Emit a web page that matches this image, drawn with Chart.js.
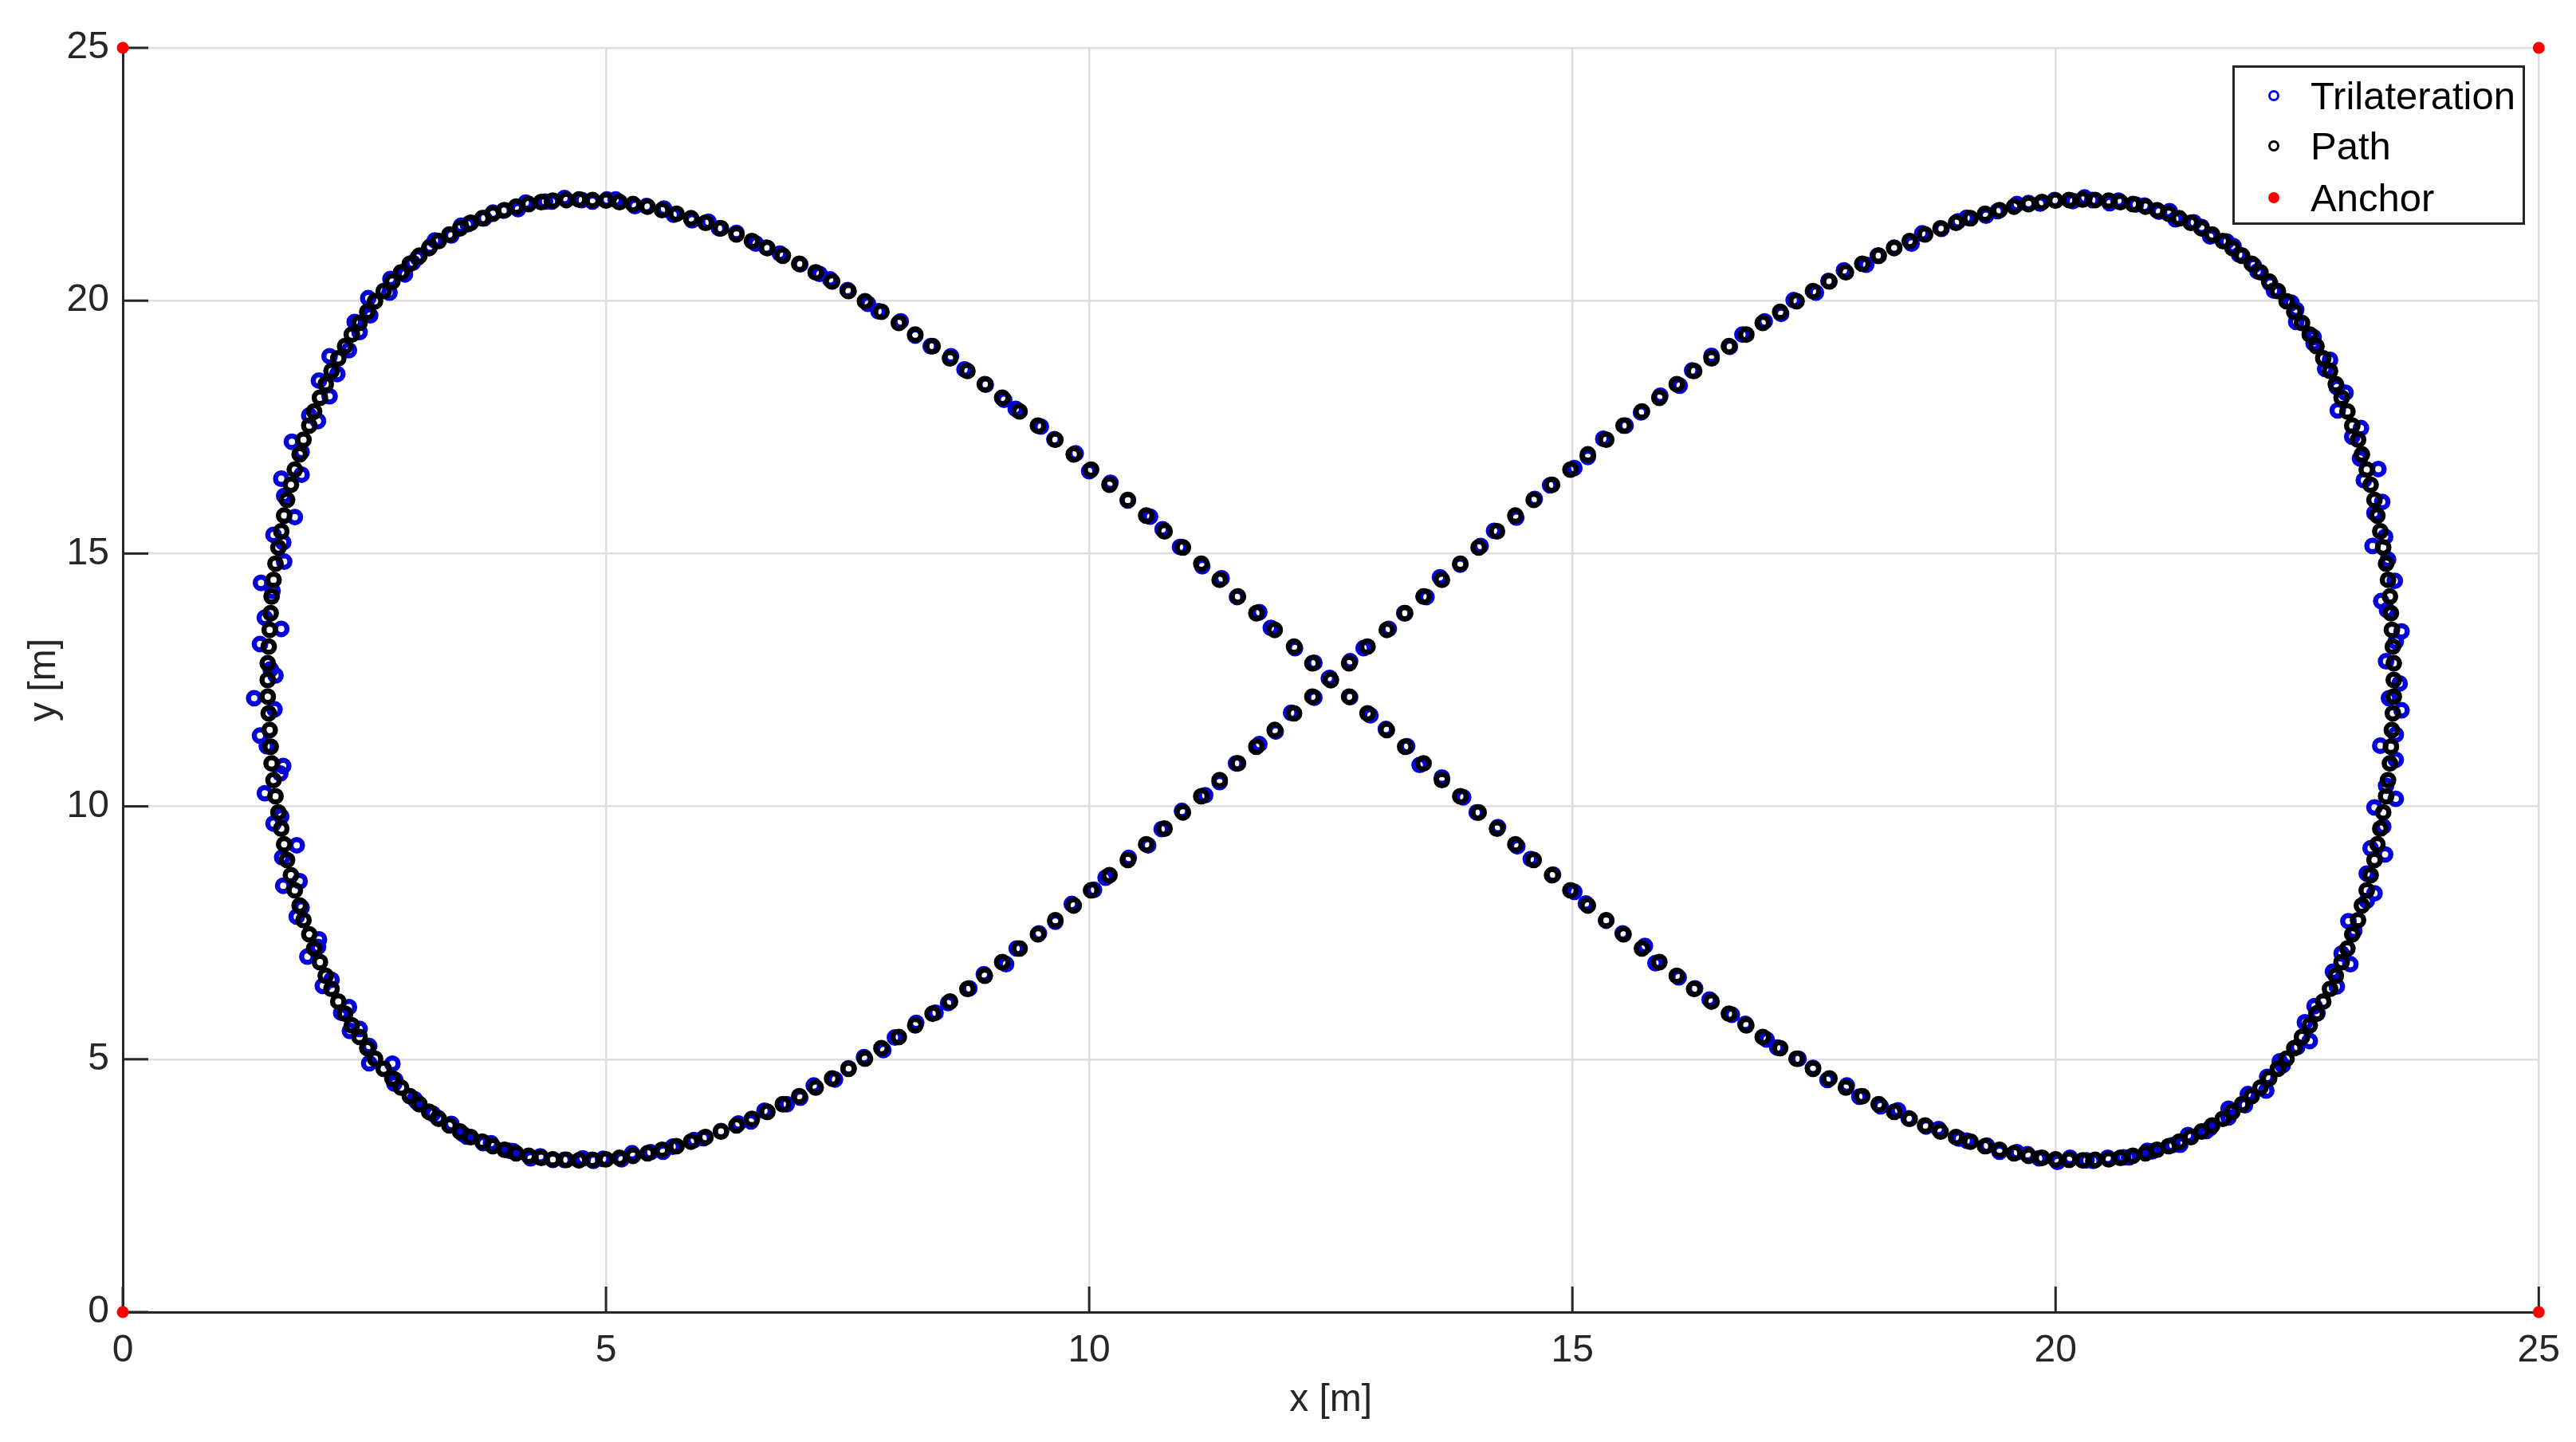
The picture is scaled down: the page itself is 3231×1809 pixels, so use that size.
<!DOCTYPE html>
<html>
<head>
<meta charset="utf-8">
<script src="https://cdn.jsdelivr.net/npm/chart.js@4.4.1/dist/chart.umd.min.js"></script>
<style>
html,body{margin:0;padding:0;background:#fff;}
#wrap{position:relative;width:3231px;height:1809px;overflow:hidden;}
#legend{position:absolute;left:2800px;top:82px;width:361px;height:194px;border:3px solid #262626;background:#fff;
  font-family:'Liberation Sans',Arial,sans-serif;font-size:49px;color:#000;}
.row{position:absolute;left:0;width:361px;height:60px;line-height:60px;}
.row span.t{position:absolute;left:95px;top:0;white-space:nowrap;}
.row span.m{position:absolute;left:42px;top:23px;width:14px;height:14px;box-sizing:border-box;border-radius:50%;}
</style>
</head>
<body>
<div id="wrap">
<canvas id="c" width="3231" height="1809"></canvas>
<div id="legend">
  <div class="row" style="top:5px"><span class="m" style="border:3.5px solid #0a0ae0"></span><span class="t">Trilateration</span></div>
  <div class="row" style="top:68px"><span class="m" style="border:3.5px solid #000"></span><span class="t">Path</span></div>
  <div class="row" style="top:133px"><span class="m" style="background:#ff0000"></span><span class="t">Anchor</span></div>
</div>
</div>
<script>
// ---- data ----
const xTicks = [0, 5, 10, 15, 20, 25];
const yTicks = [0, 5, 10, 15, 20, 25];

const anchorX = [0, 25, 0, 25];
const anchorY = [0, 0, 25, 25];

const pathX = [
23.50,23.50,23.49,23.48,23.47,23.46,23.44,23.42,23.39,23.36,
23.33,23.30,23.26,23.22,23.17,23.13,23.07,23.02,22.96,22.90,
22.84,22.77,22.70,22.63,22.55,22.47,22.39,22.30,22.21,22.12,
22.03,21.93,21.83,21.73,21.62,21.51,21.40,21.28,21.17,21.05,
20.93,20.80,20.67,20.55,20.41,20.28,20.14,20.00,19.86,19.72,
19.57,19.42,19.27,19.12,18.97,18.81,18.65,18.49,18.33,18.17,
18.00,17.83,17.66,17.49,17.32,17.15,16.97,16.80,16.62,16.44,
16.26,16.08,15.90,15.72,15.53,15.35,15.16,14.98,14.79,14.60,
14.41,14.22,14.03,13.84,13.65,13.46,13.27,13.08,12.88,12.69,
12.50,12.31,12.12,11.92,11.73,11.54,11.35,11.16,10.97,10.78,
10.59,10.40,10.21,10.02,9.84,9.65,9.47,9.28,9.10,8.92,
8.74,8.56,8.38,8.20,8.03,7.85,7.68,7.51,7.34,7.17,
7.00,6.83,6.67,6.51,6.35,6.19,6.03,5.88,5.73,5.58,
5.43,5.28,5.14,5.00,4.86,4.72,4.59,4.45,4.33,4.20,
4.07,3.95,3.83,3.72,3.60,3.49,3.38,3.27,3.17,3.07,
2.97,2.88,2.79,2.70,2.61,2.53,2.45,2.37,2.30,2.23,
2.16,2.10,2.04,1.98,1.93,1.87,1.83,1.78,1.74,1.70,
1.67,1.64,1.61,1.58,1.56,1.54,1.53,1.52,1.51,1.50,
1.50,1.50,1.51,1.52,1.53,1.54,1.56,1.58,1.61,1.64,
1.67,1.70,1.74,1.78,1.83,1.87,1.93,1.98,2.04,2.10,
2.16,2.23,2.30,2.37,2.45,2.53,2.61,2.70,2.79,2.88,
2.97,3.07,3.17,3.27,3.38,3.49,3.60,3.72,3.83,3.95,
4.07,4.20,4.33,4.45,4.59,4.72,4.86,5.00,5.14,5.28,
5.43,5.58,5.73,5.88,6.03,6.19,6.35,6.51,6.67,6.83,
7.00,7.17,7.34,7.51,7.68,7.85,8.03,8.20,8.38,8.56,
8.74,8.92,9.10,9.28,9.47,9.65,9.84,10.02,10.21,10.40,
10.59,10.78,10.97,11.16,11.35,11.54,11.73,11.92,12.12,12.31,
12.50,12.69,12.88,13.08,13.27,13.46,13.65,13.84,14.03,14.22,
14.41,14.60,14.79,14.98,15.16,15.35,15.53,15.72,15.90,16.08,
16.26,16.44,16.62,16.80,16.97,17.15,17.32,17.49,17.66,17.83,
18.00,18.17,18.33,18.49,18.65,18.81,18.97,19.12,19.27,19.42,
19.57,19.72,19.86,20.00,20.14,20.28,20.41,20.55,20.67,20.80,
20.93,21.05,21.17,21.28,21.40,21.51,21.62,21.73,21.83,21.93,
22.03,22.12,22.21,22.30,22.39,22.47,22.55,22.63,22.70,22.77,
22.84,22.90,22.96,23.02,23.07,23.13,23.17,23.22,23.26,23.30,
23.33,23.36,23.39,23.42,23.44,23.46,23.47,23.48,23.49,23.50
];

const pathY = [
12.50,12.83,13.16,13.49,13.82,14.15,14.48,14.80,15.12,15.44,
15.75,16.06,16.36,16.66,16.96,17.25,17.53,17.81,18.08,18.35,
18.61,18.86,19.10,19.33,19.56,19.78,19.99,20.19,20.38,20.56,
20.73,20.89,21.04,21.18,21.31,21.43,21.54,21.63,21.72,21.79,
21.86,21.91,21.95,21.98,21.99,22.00,21.99,21.98,21.95,21.91,
21.86,21.79,21.72,21.63,21.54,21.43,21.31,21.18,21.04,20.89,
20.73,20.56,20.38,20.19,19.99,19.78,19.56,19.33,19.10,18.86,
18.61,18.35,18.08,17.81,17.53,17.25,16.96,16.66,16.36,16.06,
15.75,15.44,15.12,14.80,14.48,14.15,13.82,13.49,13.16,12.83,
12.50,12.17,11.84,11.51,11.18,10.85,10.52,10.20,9.88,9.56,
9.25,8.94,8.64,8.34,8.04,7.75,7.47,7.19,6.92,6.65,
6.39,6.14,5.90,5.67,5.44,5.22,5.01,4.81,4.62,4.44,
4.27,4.11,3.96,3.82,3.69,3.57,3.46,3.37,3.28,3.21,
3.14,3.09,3.05,3.02,3.01,3.00,3.01,3.02,3.05,3.09,
3.14,3.21,3.28,3.37,3.46,3.57,3.69,3.82,3.96,4.11,
4.27,4.44,4.62,4.81,5.01,5.22,5.44,5.67,5.90,6.14,
6.39,6.65,6.92,7.19,7.47,7.75,8.04,8.34,8.64,8.94,
9.25,9.56,9.88,10.20,10.52,10.85,11.18,11.51,11.84,12.17,
12.50,12.83,13.16,13.49,13.82,14.15,14.48,14.80,15.12,15.44,
15.75,16.06,16.36,16.66,16.96,17.25,17.53,17.81,18.08,18.35,
18.61,18.86,19.10,19.33,19.56,19.78,19.99,20.19,20.38,20.56,
20.73,20.89,21.04,21.18,21.31,21.43,21.54,21.63,21.72,21.79,
21.86,21.91,21.95,21.98,21.99,22.00,21.99,21.98,21.95,21.91,
21.86,21.79,21.72,21.63,21.54,21.43,21.31,21.18,21.04,20.89,
20.73,20.56,20.38,20.19,19.99,19.78,19.56,19.33,19.10,18.86,
18.61,18.35,18.08,17.81,17.53,17.25,16.96,16.66,16.36,16.06,
15.75,15.44,15.12,14.80,14.48,14.15,13.82,13.49,13.16,12.83,
12.50,12.17,11.84,11.51,11.18,10.85,10.52,10.20,9.88,9.56,
9.25,8.94,8.64,8.34,8.04,7.75,7.47,7.19,6.92,6.65,
6.39,6.14,5.90,5.67,5.44,5.22,5.01,4.81,4.62,4.44,
4.27,4.11,3.96,3.82,3.69,3.57,3.46,3.37,3.28,3.21,
3.14,3.09,3.05,3.02,3.01,3.00,3.01,3.02,3.05,3.09,
3.14,3.21,3.28,3.37,3.46,3.57,3.69,3.82,3.96,4.11,
4.27,4.44,4.62,4.81,5.01,5.22,5.44,5.67,5.90,6.14,
6.39,6.65,6.92,7.19,7.47,7.75,8.04,8.34,8.64,8.94,
9.25,9.56,9.88,10.20,10.52,10.85,11.18,11.51,11.84,12.17
];

const trilaterationX = [
23.56,23.42,23.52,23.58,23.43,23.37,23.51,23.44,23.28,23.41,
23.30,23.38,23.19,23.34,23.15,23.07,23.16,22.92,23.00,22.91,
22.79,22.84,22.67,22.67,22.49,22.49,22.44,22.26,22.22,22.09,
22.05,21.90,21.84,21.77,21.60,21.51,21.43,21.24,21.18,21.07,
20.92,20.83,20.65,20.56,20.38,20.30,20.18,19.99,19.84,19.72,
19.60,19.40,19.28,19.08,18.99,18.82,18.62,18.51,18.33,18.16,
18.04,17.81,17.65,17.52,17.29,17.16,16.99,16.76,16.63,16.44,
16.24,16.11,15.91,15.71,15.55,15.32,15.16,15.02,14.77,14.61,
14.42,14.19,14.05,13.84,13.63,13.49,13.26,13.10,12.84,12.70,
12.49,12.33,12.09,11.93,11.76,11.52,11.35,11.20,10.96,10.75,
10.61,10.41,10.17,10.05,9.82,9.65,9.48,9.25,9.14,8.91,
8.76,8.54,8.41,8.21,7.99,7.87,7.67,7.51,7.37,7.15,
7.01,6.87,6.64,6.50,6.37,6.19,6.01,5.91,5.69,5.59,
5.46,5.27,5.16,4.97,4.87,4.76,4.57,4.45,4.32,4.22,
4.04,4.00,3.81,3.73,3.56,3.52,3.40,3.26,3.21,3.04,
3.02,2.81,2.82,2.79,2.55,2.55,2.35,2.45,2.26,2.34,
2.07,2.16,1.91,2.02,2.03,1.80,1.85,1.66,1.83,1.65,
1.80,1.56,1.64,1.47,1.63,1.66,1.49,1.42,1.57,1.36,
1.58,1.53,1.42,1.64,1.47,1.55,1.43,1.67,1.66,1.56,
1.78,1.67,1.64,1.85,1.85,1.75,2.02,1.93,2.14,2.03,
2.22,2.14,2.34,2.45,2.40,2.56,2.54,2.76,2.77,2.92,
3.00,3.05,3.18,3.23,3.40,3.50,3.57,3.74,3.83,3.94,
4.09,4.17,4.37,4.44,4.57,4.75,4.86,5.01,5.10,5.30,
5.42,5.60,5.70,5.89,6.06,6.17,6.35,6.55,6.66,6.80,
7.01,7.21,7.32,7.50,7.71,7.82,8.05,8.20,8.36,8.57,
8.71,8.93,9.12,9.24,9.50,9.64,9.86,10.00,10.22,10.40,
10.63,10.76,10.94,11.17,11.37,11.53,11.76,11.88,12.13,12.33,
12.48,12.70,12.91,13.07,13.29,13.42,13.65,13.87,14.01,14.23,
14.43,14.57,14.80,15.02,15.14,15.35,15.52,15.75,15.86,16.10,
16.27,16.42,16.65,16.79,17.01,17.12,17.34,17.49,17.64,17.84,
17.97,18.19,18.37,18.48,18.66,18.79,19.00,19.08,19.29,19.42,
19.60,19.71,19.83,20.02,20.15,20.32,20.39,20.54,20.70,20.76,
20.95,21.00,21.21,21.29,21.37,21.56,21.60,21.79,21.79,21.96,
21.99,22.18,22.19,22.35,22.32,22.50,22.63,22.58,22.71,22.68,
22.91,22.87,23.05,22.96,23.09,23.03,23.22,23.30,23.22,23.41,
23.26,23.39,23.30,23.52,23.42,23.52,23.36,23.52,23.58,23.45
];

const trilaterationY = [
12.43,12.87,13.26,13.46,13.88,14.06,14.46,14.88,15.15,15.33,
15.80,16.02,16.45,16.67,16.88,17.31,17.48,17.83,18.18,18.29,
18.65,18.83,19.16,19.28,19.58,19.82,19.96,20.20,20.34,20.58,
20.70,20.91,21.08,21.17,21.27,21.46,21.55,21.61,21.77,21.76,
21.88,21.90,21.98,21.93,21.99,22.04,21.97,21.99,21.92,21.93,
21.91,21.77,21.68,21.64,21.57,21.42,21.33,21.13,21.05,20.89,
20.71,20.60,20.39,20.16,20.01,19.74,19.59,19.33,19.09,18.91,
18.62,18.32,18.12,17.79,17.53,17.27,16.91,16.69,16.35,16.08,
15.71,15.45,15.15,14.78,14.53,14.14,13.82,13.51,13.13,12.87,
12.54,12.15,11.85,11.48,11.23,10.85,10.48,10.22,9.91,9.55,
9.23,8.98,8.59,8.35,8.07,7.72,7.49,7.19,6.88,6.68,
6.40,6.11,5.92,5.72,5.43,5.18,5.04,4.82,4.60,4.48,
4.24,4.11,3.98,3.77,3.73,3.58,3.44,3.40,3.27,3.17,
3.16,3.14,3.02,3.03,2.99,3.04,3.01,3.01,3.08,3.04,
3.18,3.19,3.34,3.34,3.47,3.52,3.72,3.84,3.92,4.16,
4.21,4.52,4.59,4.91,4.92,5.26,5.56,5.60,5.92,6.03,
6.45,6.57,7.03,7.22,7.37,7.82,8.00,8.43,8.52,8.99,
9.23,9.66,9.80,10.26,10.65,10.80,11.19,11.40,11.92,12.14,
12.59,12.71,13.21,13.51,13.73,14.26,14.42,14.84,15.22,15.37,
15.72,16.14,16.48,16.56,17.01,17.21,17.62,17.73,18.11,18.42,
18.55,18.90,19.02,19.38,19.58,19.71,20.05,20.16,20.43,20.52,
20.75,20.85,21.07,21.19,21.29,21.48,21.51,21.63,21.74,21.78,
21.81,21.94,21.96,21.96,22.03,21.99,21.96,22.00,22.00,21.87,
21.87,21.82,21.70,21.59,21.56,21.43,21.34,21.13,21.05,20.93,
20.72,20.53,20.42,20.21,19.94,19.79,19.59,19.31,19.10,18.90,
18.64,18.34,18.04,17.86,17.51,17.26,16.98,16.63,16.40,16.05,
15.73,15.48,15.13,14.75,14.51,14.14,13.84,13.53,13.13,12.84,
12.53,12.16,11.80,11.53,11.19,10.82,10.57,10.18,9.88,9.59,
9.21,8.96,8.65,8.31,8.08,7.74,7.49,7.24,6.90,6.62,
6.40,6.18,5.88,5.70,5.39,5.23,5.01,4.83,4.59,4.48,
4.26,4.07,3.99,3.83,3.67,3.62,3.43,3.39,3.29,3.17,
3.16,3.12,3.04,2.97,3.05,3.00,2.99,3.05,3.06,3.06,
3.19,3.18,3.30,3.31,3.50,3.58,3.64,3.85,4.02,4.09,
4.31,4.38,4.65,4.88,4.96,5.24,5.36,5.73,5.91,6.05,
6.44,6.73,6.88,7.09,7.54,7.73,8.13,8.28,8.67,9.05,
9.17,9.60,9.98,10.15,10.41,10.92,11.20,11.42,11.90,12.14
];

// ---- chart ----
const FONT = "'Liberation Sans', Arial, sans-serif";
const AXIS = '#262626';
const toPoints = (xs, ys) => xs.map((v, i) => ({x: v, y: ys[i]}));

const inwardTicks = {
  id: 'inwardTicks',
  beforeDatasetsDraw(chart) {
    const {ctx, chartArea: a, scales: {x, y}} = chart;
    ctx.save();
    ctx.strokeStyle = AXIS;
    ctx.lineWidth = 3;
    xTicks.forEach(v => {
      const px = x.getPixelForValue(v);
      ctx.beginPath(); ctx.moveTo(px, a.bottom); ctx.lineTo(px, a.bottom - 32); ctx.stroke();
    });
    yTicks.forEach(v => {
      const py = y.getPixelForValue(v);
      ctx.beginPath(); ctx.moveTo(a.left, py); ctx.lineTo(a.left + 32, py); ctx.stroke();
    });
    ctx.restore();
  }
};

new Chart(document.getElementById('c'), {
  type: 'scatter',
  data: {
    datasets: [
      {label: 'Anchor', data: toPoints(anchorX, anchorY), order: 0, clip: false,
       pointRadius: 7.5, pointBorderWidth: 0, pointBackgroundColor: '#ff0000', pointBorderColor: '#ff0000'},
      {label: 'Path', data: toPoints(pathX, pathY), order: 1, clip: false,
       pointRadius: 7.2, pointBorderWidth: 6.5, pointBorderColor: '#000000', pointBackgroundColor: 'rgba(0,0,0,0)'},
      {label: 'Trilateration', data: toPoints(trilaterationX, trilaterationY), order: 2, clip: false,
       pointRadius: 7.2, pointBorderWidth: 6.5, pointBorderColor: '#0505d8', pointBackgroundColor: 'rgba(0,0,0,0)'}
    ]
  },
  options: {
    responsive: false,
    devicePixelRatio: 1,
    animation: false,
    events: [],
    layout: {padding: {left: 0, right: 45, top: 60, bottom: 0}},
    plugins: {legend: {display: false}, tooltip: {enabled: false}},
    scales: {
      x: {
        type: 'linear', min: 0, max: 25,
        afterBuildTicks: s => { s.ticks = xTicks.map(v => ({value: v})); },
        afterFit: s => { s.height = 163; },
        ticks: {font: {family: FONT, size: 48}, color: AXIS, padding: 20, maxRotation: 0, autoSkip: false},
        grid: {color: '#dedede', lineWidth: 2.5, drawTicks: false},
        border: {display: true, color: AXIS, width: 3},
        title: {display: true, text: 'x [m]', font: {family: FONT, size: 48}, color: AXIS, padding: {top: 0, bottom: 23}}
      },
      y: {
        type: 'linear', min: 0, max: 25,
        afterBuildTicks: s => { s.ticks = yTicks.map(v => ({value: v})); },
        afterFit: s => { s.width = 154; },
        ticks: {font: {family: FONT, size: 48}, color: AXIS, padding: 17, autoSkip: false},
        grid: {color: '#dedede', lineWidth: 2.5, drawTicks: false},
        border: {display: true, color: AXIS, width: 3},
        title: {display: true, text: 'y [m]', font: {family: FONT, size: 48}, color: AXIS, padding: {top: 27, bottom: 0}}
      }
    }
  },
  plugins: [inwardTicks]
});
</script>
</body>
</html>
